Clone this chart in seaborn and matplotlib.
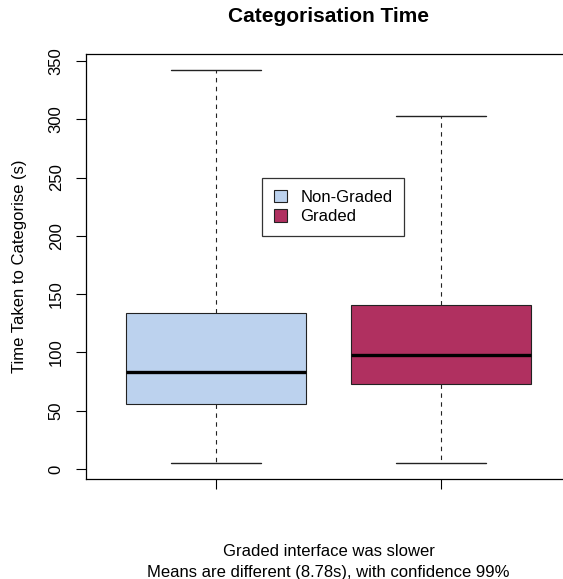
import matplotlib
matplotlib.use("Agg")
import matplotlib.pyplot as plt
import seaborn as sns
import pandas as pd
from matplotlib.patches import Patch

# Data (five-number summaries: min, Q1, median, Q3, max)
groups = ["Non-Graded", "Graded"]
non_graded = [5.1, 55.8, 83.2, 133.8, 342.3]
graded = [5.1, 72.9, 97.8, 140.7, 302.8]
colors = ["#BCD2EE", "#B03060"]
yticks = [0, 50, 100, 150, 200, 250, 300, 350]

df = pd.DataFrame({
    "group": [groups[0]] * len(non_graded) + [groups[1]] * len(graded),
    "value": non_graded + graded,
})

sns.set_theme(style="white")
plt.rcParams["font.family"] = ["Liberation Sans", "DejaVu Sans"]
plt.rcParams["text.color"] = "black"
plt.rcParams["axes.labelcolor"] = "black"
plt.rcParams["xtick.color"] = "black"
plt.rcParams["ytick.color"] = "black"

fig = plt.figure(figsize=(5.63, 5.79), dpi=100)
ax = fig.add_axes([86 / 563, 1 - 479 / 579, (571 - 86) / 563, (479 - 54) / 579])

sns.boxplot(
    data=df, x="group", y="value", hue="group", order=groups, hue_order=groups,
    palette=colors, whis=(0, 100), width=0.8, legend=False, ax=ax,
    linewidth=0.8, linecolor="#222222", saturation=1,
    whiskerprops={"linestyle": (0, (4, 4)), "color": "#222222", "linewidth": 0.8},
    capprops={"color": "#222222", "linewidth": 1.0},
    medianprops={"color": "black", "linewidth": 2.4},
    boxprops={"edgecolor": "#222222"},
)

ax.set_xlim(0.42 - 1, 2.58 - 1)
ax.set_ylim(-8.6, 356)
ax.set_yticks(yticks)
ax.set_yticklabels([str(v) for v in yticks], rotation=90, va="center", fontsize=12)
ax.set_xticks([0, 1])
ax.set_xticklabels(["", ""])
ax.set_xlabel("")
ax.set_ylabel("Time Taken to Categorise (s)", fontsize=12, labelpad=16)
ax.tick_params(axis="both", which="both", length=7, width=0.8, color="black",
               left=True, bottom=True, pad=9)
for s in ax.spines.values():
    s.set_color("black")
    s.set_linewidth(0.9)
ax.spines["right"].set_visible(False)

ax.set_title("Categorisation Time", fontsize=15, fontweight="bold", pad=0,
             y=1 + (54 - 17) / (479 - 54), va="center", color="black")

handles = [Patch(facecolor=c, edgecolor="#222222", linewidth=0.8) for c in colors]
leg = fig.legend(handles, groups, loc="upper left",
                 bbox_to_anchor=(262 / 563, 1 - 178 / 579), fontsize=12,
                 frameon=True, fancybox=False, edgecolor="black",
                 handlelength=0.8, handleheight=0.8, handletextpad=0.8,
                 borderpad=0.7, labelspacing=0.25, borderaxespad=0)
leg.get_frame().set_linewidth(0.9)

fig.text(328.5 / 563, 1 - 552 / 579, "Graded interface was slower",
         ha="center", va="center", fontsize=12)
fig.text(328.5 / 563, 1 - 572 / 579, "Means are different (8.78s), with confidence 99%",
         ha="center", va="center", fontsize=12)

fig.savefig("out.png", dpi=100)
